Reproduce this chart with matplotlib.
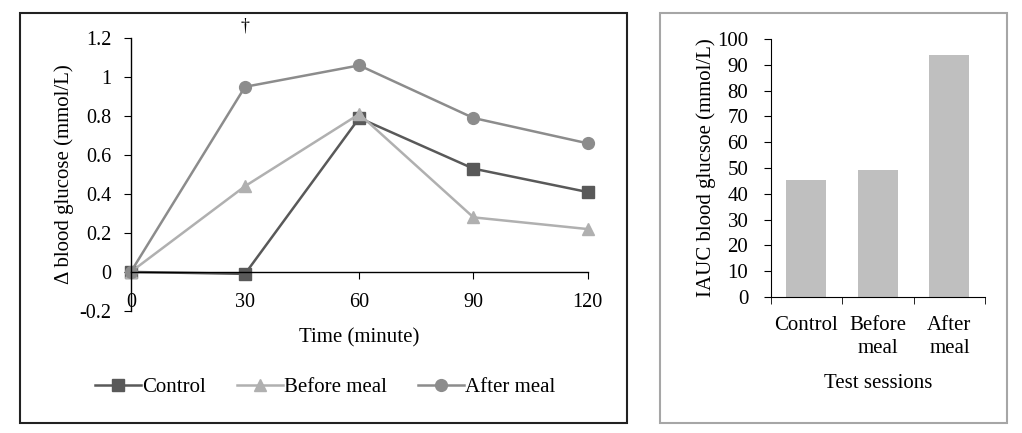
import matplotlib
matplotlib.use("Agg")
import matplotlib.pyplot as plt
from matplotlib.patches import Rectangle

plt.rcParams['font.family'] = ['Liberation Serif', 'DejaVu Serif']

# time course data
minutes = [0, 30, 60, 90, 120]
control = [0, -0.01, 0.79, 0.53, 0.41]
before_meal = [0, 0.44, 0.81, 0.28, 0.22]
after_meal = [0, 0.95, 1.06, 0.79, 0.66]
y_ticks = [-0.2, 0, 0.2, 0.4, 0.6, 0.8, 1, 1.2]
y_tick_labels = ["-0.2", "0", "0.2", "0.4", "0.6", "0.8", "1", "1.2"]

# IAUC data
sessions = ["Control", "Before\nmeal", "After\nmeal"]
iauc = [45.3, 49.2, 93.6]

fs = 15
fig = plt.figure(figsize=(10.22, 4.33), dpi=100)

# panel frames
fig.patches.append(Rectangle((0.0196, 0.023), 0.594, 0.947, transform=fig.transFigure,
                             fill=False, edgecolor='#222222', linewidth=1.5))
fig.patches.append(Rectangle((0.6458, 0.023), 0.3395, 0.947, transform=fig.transFigure,
                             fill=False, edgecolor='#a6a6a6', linewidth=1.5))

ax = fig.add_axes([0.128, 0.282, 0.447, 0.630])
ax.plot(minutes, control, color='#595959', marker='s', markersize=8.5, linewidth=1.8,
        label='Control', clip_on=False)
ax.plot(minutes, before_meal, color='#b0b0b0', marker='^', markersize=8.5, linewidth=1.8,
        label='Before meal', clip_on=False)
ax.plot(minutes, after_meal, color='#8c8c8c', marker='o', markersize=8.5, linewidth=1.8,
        label='After meal', clip_on=False)
ax.set_xlim(0, 120)
ax.set_ylim(-0.2, 1.2)
ax.set_xticks(minutes)
ax.set_yticks(y_ticks)
ax.set_yticklabels(y_tick_labels)
ax.spines['top'].set_visible(False)
ax.spines['right'].set_visible(False)
ax.spines['bottom'].set_position(('data', 0))
ax.tick_params(axis='x', direction='out', length=5, pad=10, labelsize=fs - 0.5)
ax.tick_params(axis='y', direction='out', length=5, pad=9, labelsize=fs - 0.5)
ax.set_xlabel("Time (minute)", fontsize=fs)
ax.xaxis.set_label_coords(0.5, -0.065)
ax.set_ylabel("\u0394 blood glucose (mmol/L)", fontsize=fs)
ax.yaxis.set_label_coords(-0.125, 0.5)
ax.text(30, 1.22, "\u2020", ha='center', va='bottom', fontsize=fs - 2)
for sp in ax.spines.values():
    sp.set_linewidth(1.0)

fig.legend(loc='center', bbox_to_anchor=(0.318, 0.106), ncol=3, frameon=False,
           fontsize=fs, handlelength=2.2, columnspacing=1.5, handletextpad=0.05)

ax2 = fig.add_axes([0.754, 0.314, 0.210, 0.596])
ax2.bar(range(len(sessions)), iauc, width=0.56, color='#bfbfbf')
ax2.set_xlim(-0.5, 2.5)
ax2.set_ylim(0, 100)
ax2.set_yticks(range(0, 101, 10))
ax2.set_xticks(range(len(sessions)))
ax2.set_xticklabels(sessions, fontsize=fs, linespacing=1.25)
ax2.set_xticks([-0.5, 0.5, 1.5, 2.5], minor=True)
ax2.tick_params(axis='x', which='major', length=0, pad=14)
ax2.tick_params(axis='x', which='minor', direction='out', length=5)
ax2.tick_params(axis='y', direction='out', length=5, pad=11, labelsize=fs)
ax2.spines['top'].set_visible(False)
ax2.spines['right'].set_visible(False)
ax2.set_xlabel("Test sessions", fontsize=fs)
ax2.xaxis.set_label_coords(0.5, -0.30)
ax2.set_ylabel("IAUC blood glucsoe (mmol/L)", fontsize=fs)
ax2.yaxis.set_label_coords(-0.255, 0.5)

fig.savefig("out.png", dpi=100)
